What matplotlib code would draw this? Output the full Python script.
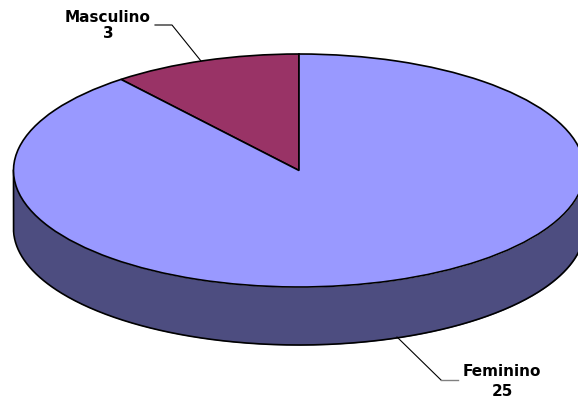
import numpy as np
from matplotlib import pyplot as plt

labels = ['Masculino', 'Feminino']
values = [3, 25]
colors = ['#993366', '#9999FF']
wallColor = '#4D4D80'

W, H = 578, 398
CX, CY = 299, 170.5
RX, RY = 285.5, 116.5
DEPTH = 58 / RY

plt.rcParams['font.family'] = ['DejaVu Sans']

fig = plt.figure(figsize=(W / 100, H / 100), dpi=100)

# pie axes: unit circle comes out as the flattened disc
ax = fig.add_axes([0, 0, 1, 1])
ax.pie(values, colors=colors, startangle=90, counterclock=True, radius=1,
       wedgeprops={'edgecolor': 'black', 'linewidth': 1.2, 'zorder': 3})
ax.set_aspect('auto')
ax.set_xlim(-CX / RX, (W - CX) / RX)
ax.set_ylim((CY - H) / RY, CY / RY)

# side wall below the front edge, outlined in one stroke
t = np.linspace(np.pi, 2 * np.pi, 400)
ax.fill_between(np.cos(t), np.sin(t), np.sin(t) - DEPTH, color=wallColor,
                linewidth=0, zorder=1)
ax.plot(np.r_[-1, np.cos(t), 1], np.r_[0, np.sin(t) - DEPTH, 0], color='black',
        linewidth=1.2, zorder=2)

# overlay in pixel coordinates for labels and leader lines
over = fig.add_axes([0, 0, 1, 1])
over.set_xlim(0, W)
over.set_ylim(H, 0)
over.axis('off')

over.plot([155, 172, 201], [25, 25, 61], color='black', linewidth=0.8)
over.plot([397, 441], [337, 380], color='black', linewidth=0.8)
over.plot([441, 458], [380, 380], color='#808080', linewidth=1.0)

over.text(108, 17, labels[0], ha='center', va='center', fontsize=11, fontweight='bold')
over.text(108, 34, str(values[0]), ha='center', va='center', fontsize=11, fontweight='bold')
over.text(502, 372, labels[1], ha='center', va='center', fontsize=11, fontweight='bold')
over.text(502, 391, str(values[1]), ha='center', va='center', fontsize=11, fontweight='bold')

fig.savefig('out.png', dpi=100)
